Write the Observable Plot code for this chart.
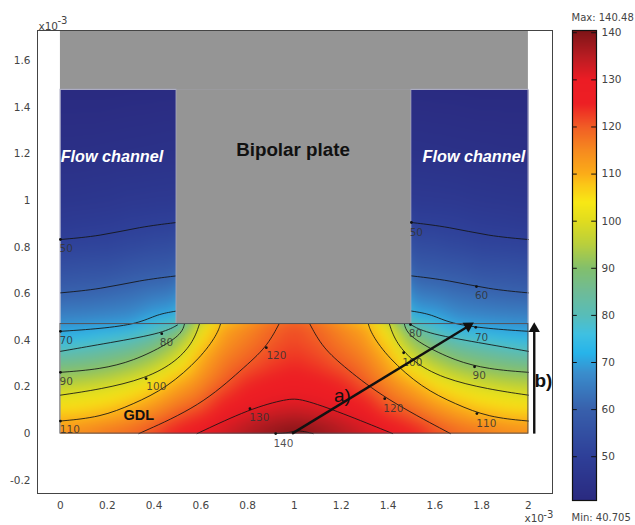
<!DOCTYPE html>
<html><head><meta charset="utf-8">
<script src="https://cdn.jsdelivr.net/npm/d3@7"></script>
<script src="https://cdn.jsdelivr.net/npm/@observablehq/plot@0.6"></script>
<style>
html,body{margin:0;padding:0;background:#fff;overflow:hidden}
#wrap{display:flex;width:635px;height:525px;overflow:hidden}
svg{display:block;flex:none;max-width:none!important}
</style></head><body><div id="wrap"></div>
<script>
// Axis ticks
const xTicks = [0,0.2,0.4,0.6,0.8,1,1.2,1.4,1.6,1.8,2];
const yTicks = [-0.2,0,0.2,0.4,0.6,0.8,1,1.2,1.4,1.6];
const barTicks = [50,60,70,80,90,100,110,120,130,140];

// Colour bar stops
const colorStops = [40.7,50,60,68,72,76,80,85,90,95,100,104,108,110,115,120,125,130,135,140.48];
const colorHexes = ["#2a2a80","#2e3f98","#3860ac","#3a8fce","#27b4ea","#3fc0e2","#58bdb9","#6fbb97","#82bf6c","#b8cf3d","#e0dc1f","#f8e815","#fbc417","#fbad18","#f68a1f","#f15d25","#ed1f24","#ec1c24","#b81c22","#7d1417"];

// GDL temperature
const gdlX = [0,.1,.2,.3,.4,.5,.6,.7,.8,.9,1,1.1,1.2,1.3,1.4,1.5,1.6,1.7,1.8,1.9,2];
const gdlY = [0,.06,.12,.18,.24,.30,.36,.42,.47];
const gdl0  = [115,116,118,119.5,122,126.6,130.6,133.5,136,138.5,140.4,138.5,136,133.5,130.6,126.6,122,119.5,118,116,115];
const gdl1  = [109.5,110.2,112,114.5,117.7,121.4,125,130,133,135,136,135,133,130,125,121.4,117.7,114.5,112,110.2,109.5];
const gdl2  = [104,105,106.5,109.5,113,117.2,120,126,129,131,132,131,129,126,120,117.2,113,109.5,106.5,105,104];
const gdl3  = [98.5,99.8,101.3,103.8,108,113,117,122,126,128,128.8,128,126,122,117,113,108,103.8,101.3,99.8,98.5];
const gdl4  = [92.5,93.3,95,97.8,101.6,108.3,114,119,123,125,126,125,123,119,114,108.3,101.6,97.8,95,93.3,92.5];
const gdl5  = [86,87,88.6,91,95.3,101.4,111.3,117,120,122.5,124,122.5,120,117,111.3,101.4,95.3,91,88.6,87,86];
const gdl6  = [79.3,81,82.9,85,88.9,95.8,108,114.8,118,121,122.5,121,118,114.8,108,95.8,88.9,85,82.9,81,79.3];
const gdl7  = [72,73.3,75.4,78,82.2,89.5,104,112.5,116,119.5,121.5,119.5,116,112.5,104,89.5,82.2,78,75.4,73.3,72];
const gdl8  = [68,68.5,69,69.8,76,80,100.5,110.6,114.6,118.6,121,118.6,114.6,110.6,100.5,80,76,69.8,69,68.5,68];
const gdlRows = [gdl0,gdl1,gdl2,gdl3,gdl4,gdl5,gdl6,gdl7,gdl8];

// Flow channel temperature
const chanY = [.5,.55,.6,.7,.8,.9,1,1.2,1.476];
const chan0 = [66,63.2,60.3,55.5,51.3,48,46,43.3,41];
const chan1 = [66.3,63.5,60.8,56,51.7,48.5,46.2,43.4,41];
const chan2 = [67,64,61.5,56.3,52,48.9,46.5,43.6,41];
const chan3 = [67.7,65,62.5,57.7,53,49.7,47,43.8,41.2];
const chan4 = [71,67.5,64,58.5,54,50.2,47.3,44,41.3];
const chan5 = [72,68.5,65,59,54.5,50.5,47.5,44.2,41.4];
const chanLeftX = [0,.1,.2,.3,.4,.5];
const chanRightX = [2,1.9,1.8,1.7,1.6,1.5];
const chanCols = [chan0,chan1,chan2,chan3,chan4,chan5];

// Contour lines [x,y]
const c50L = [[0,.833],[.17,.848],[.34,.887],[.496,.906]];
const c50R = [[2,.833],[1.83,.848],[1.66,.887],[1.5,.906]];
const c60L = [[0,.604],[.17,.62],[.34,.658],[.496,.677]];
const c60R = [[2,.604],[1.83,.62],[1.66,.658],[1.5,.677]];
const c70L = [[0,.439],[.17,.45],[.335,.472],[.413,.512],[.496,.526]];
const c70R = [[2,.439],[1.83,.45],[1.665,.472],[1.587,.512],[1.5,.526]];
const c80L = [[0,.353],[.17,.383],[.433,.429],[.5,.466]];
const c80R = [[2,.353],[1.83,.383],[1.567,.429],[1.5,.466]];
const c90L = [[0,.263],[.17,.276],[.313,.312],[.456,.383],[.52,.433],[.53,.47]];
const c90R = [[2,.263],[1.83,.276],[1.687,.312],[1.544,.383],[1.48,.433],[1.47,.47]];
const c100L = [[0,.165],[.17,.19],[.366,.236],[.5,.312],[.57,.398],[.594,.47]];
const c100R = [[2,.165],[1.83,.19],[1.634,.236],[1.5,.312],[1.43,.398],[1.406,.47]];
const c110L = [[0,.054],[.17,.07],[.31,.126],[.456,.197],[.6,.326],[.67,.426],[.684,.47]];
const c110R = [[2,.054],[1.83,.07],[1.69,.126],[1.544,.197],[1.4,.326],[1.33,.426],[1.316,.47]];
const c120L = [[.335,0],[.6,.119],[.78,.28],[.88,.369],[.934,.47]];
const c120R = [[1.667,0],[1.386,.15],[1.22,.28],[1.12,.369],[1.066,.47]];
const c130 = [[.584,0],[.81,.107],[.97,.15],[1.03,.15],[1.2,.09],[1.42,0]];
const c140 = [[.92,0],[.98,.004],[1.0,.012],[1.03,.012],[1.08,0]];
const contourLines = [c50L,c50R,c60L,c60R,c70L,c70R,c80L,c80R,c90L,c90R,c100L,c100R,c110L,c110R,c120L,c120R,c130,c140];

// Small dots on the lines
const anchorDots = [[0,.833],[0,.439],[.433,.429],[0,.263],[.366,.236],[0,.054],[.88,.369],[.81,.107],[.92,0],[1.5,.906],[1.778,.631],[1.775,.456],[1.496,.468],[1.467,.347],[1.77,.287],[1.78,.086],[1.386,.15]];

// Contour labels
const contourText = ["50","70","80","90","100","110","120","130","140","50","60","80","70","100","90","110","120"];
const contourTextX = [.025,.025,.453,.025,.41,.04,.923,.85,.953,1.521,1.8,1.517,1.8,1.504,1.79,1.82,1.423];
const contourTextY = [.794,.399,.39,.223,.2,.017,.335,.069,-.043,.863,.592,.429,.412,.305,.249,.043,.107];

// Build tables for the library
const points = [];
gdlRows.forEach((row,j)=>row.forEach((t,i)=>points.push({x:gdlX[i],y:gdlY[j],t})));
chanCols.forEach((col,i)=>col.forEach((t,j)=>{
  points.push({x:chanLeftX[i],y:chanY[j],t});
  points.push({x:chanRightX[i],y:chanY[j],t});
}));
const plate = [{x1:0,x2:2,y1:1.476,y2:1.73},{x1:.496,x2:1.5,y1:.47,y2:1.476}];
const gdlBox = [{x1:0,x2:2,y1:0,y2:.47}];
const channelBoxes = [{x1:0,x2:.496,y1:.47,y2:1.476},{x1:1.5,x2:2,y1:.47,y2:1.476}];
const shafts = [{x1:.99,y1:0,x2:1.75,y2:.465},{x1:2.025,y1:0,x2:2.025,y2:.45}];
const heads = [{x:1.743,y:.462,a:59},{x:2.025,y:.45,a:0}];
const labels = contourText.map((s,i)=>({s,x:contourTextX[i],y:contourTextY[i]}));
const colorOpt = {type:"linear",domain:colorStops,range:colorHexes,clamp:true};
const sans = "'Liberation Sans',Arial,sans-serif";
const tickFont = "'DejaVu Sans',sans-serif";

const main = Plot.plot({
  width:560,height:525,marginLeft:37,marginRight:8,marginTop:30,marginBottom:32,
  x:{domain:[-0.098,2.103]},y:{domain:[-0.257,1.73]},color:colorOpt,
  style:{background:"white"},
  marks:[
    Plot.raster(points,{x:"x",y:"y",fill:"t",interpolate:"barycentric",x1:0,x2:2,y1:0,y2:1.476,pixelSize:1,blur:6}),
    ...contourLines.map(c=>Plot.line(c,{x:d=>d[0],y:d=>d[1],curve:"basis",stroke:"#141414",strokeWidth:1,strokeOpacity:.85})),
    Plot.rect(plate,{x1:"x1",x2:"x2",y1:"y1",y2:"y2",fill:"#959595"}),
    Plot.rect(channelBoxes,{x1:"x1",x2:"x2",y1:"y1",y2:"y2",fill:"none",stroke:"#a8a8c0",strokeWidth:.8}),
    Plot.rect(gdlBox,{x1:"x1",x2:"x2",y1:"y1",y2:"y2",fill:"none",stroke:"#4a4a50",strokeWidth:.9}),
    Plot.dot(anchorDots,{x:d=>d[0],y:d=>d[1],r:1.4,fill:"#111"}),
    Plot.text(labels,{x:"x",y:"y",text:"s",fontFamily:tickFont,fontSize:10.5,fill:"#333",fillOpacity:.85}),
    Plot.link(shafts,{x1:"x1",y1:"y1",x2:"x2",y2:"y2",stroke:"#111",strokeWidth:2.4}),
    Plot.dot(heads,{x:"x",y:"y",symbol:"triangle",rotate:"a",r:4.2,fill:"#111"}),
    Plot.text(["Flow channel","Flow channel"],{x:[.22,1.767],y:[1.19,1.19],text:d=>d,fontFamily:sans,fontWeight:"bold",fontStyle:"italic",fontSize:16.2,fill:"white"}),
    Plot.text(["Bipolar plate"],{x:[.994],y:[1.218],text:d=>d,fontFamily:sans,fontWeight:"bold",fontSize:18.8,fill:"#111"}),
    Plot.text(["GDL"],{x:[.335],y:[.077],text:d=>d,fontFamily:sans,fontWeight:"bold",fontSize:14.5,fill:"#111"}),
    Plot.text(["a)"],{x:[1.205],y:[.163],text:d=>d,fontFamily:sans,fontSize:19,fill:"#111"}),
    Plot.text(["b)"],{x:[2.064],y:[.228],text:d=>d,fontFamily:sans,fontWeight:"bold",fontSize:19,fill:"#111"}),
    Plot.frame({stroke:"#444",strokeWidth:1}),
    Plot.axisX({ticks:xTicks,tickSize:0,tickPadding:8,label:null,tickFormat:d=>String(d),fontFamily:tickFont,fontSize:10.5,fill:"#444"}),
    Plot.axisY({ticks:yTicks,tickSize:0,tickPadding:7,label:null,tickFormat:d=>String(d),fontFamily:tickFont,fontSize:10.5,fill:"#444"}),
    Plot.text(["x10","x10"],{x:[-.094,1.983],y:[1.746,-.366],text:d=>d,textAnchor:"start",fontFamily:tickFont,fontSize:10.5,fill:"#444"}),
    Plot.text(["-3","-3"],{x:[-.013,2.064],y:[1.77,-.348],text:d=>d,textAnchor:"start",fontFamily:tickFont,fontSize:10,fill:"#444"})
  ]
});

const bar = Plot.plot({
  width:75,height:525,marginLeft:12,marginRight:39,marginTop:30,marginBottom:25,
  x:{domain:[0,1],axis:null},y:{domain:[40.705,140.48]},color:colorOpt,
  marks:[
    Plot.raster({fill:(x,y)=>y,x1:0,x2:1,y1:40.705,y2:140.48,pixelSize:1}),
    Plot.ruleY(barTicks,{x1:0,x2:.2,stroke:"#111",strokeWidth:1}),
    Plot.ruleY(barTicks,{x1:.8,x2:1,stroke:"#111",strokeWidth:1}),
    Plot.frame({stroke:"#111",strokeWidth:1.2}),
    Plot.axisY({anchor:"right",ticks:barTicks,tickSize:0,tickPadding:5,label:null,fontFamily:tickFont,fontSize:10.5,fill:"#444"}),
    Plot.text(["Max: 140.48","Min: 40.705"],{x:[-.04,-.04],y:[143.1,37.0],text:d=>d,textAnchor:"start",fontFamily:tickFont,fontSize:10,fill:"#444"})
  ]
});
document.getElementById("wrap").append(main,bar);
</script></body></html>
